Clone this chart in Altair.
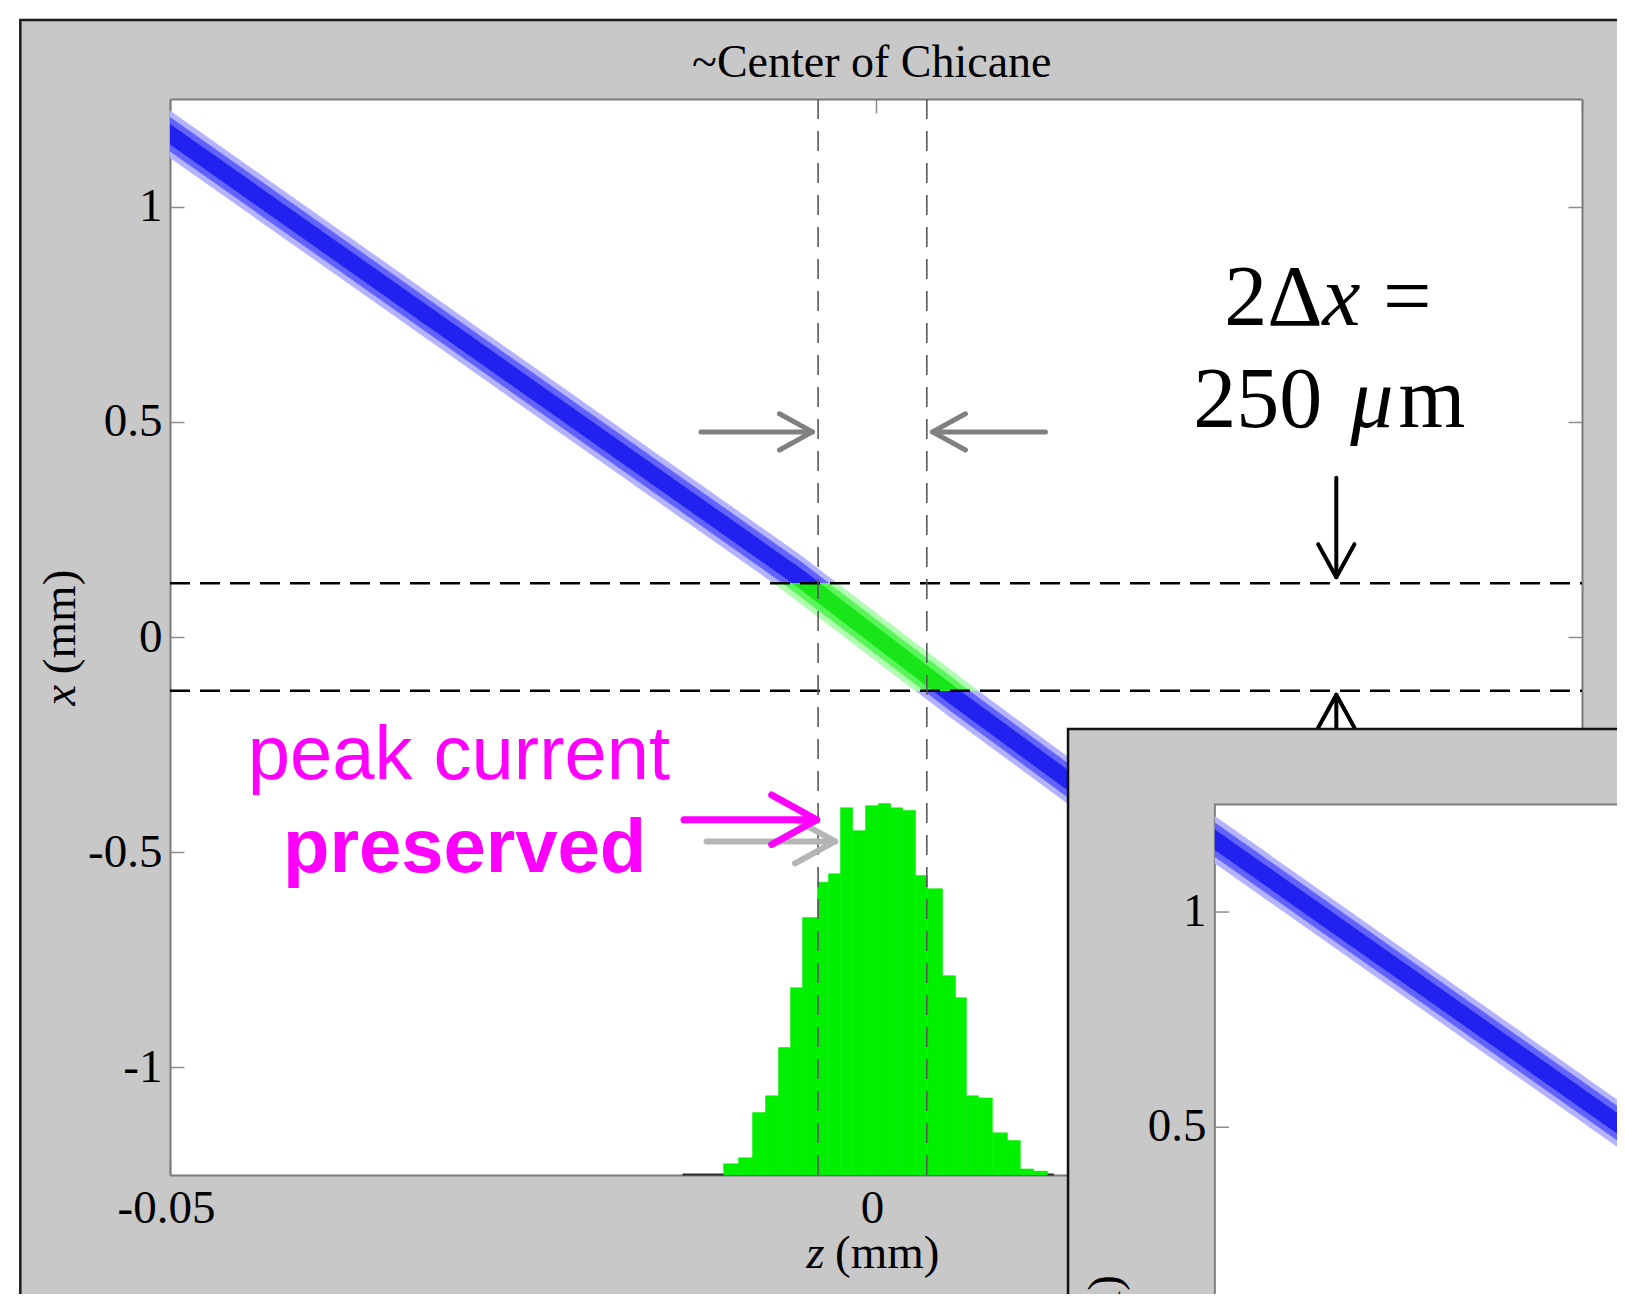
import numpy as np
import pandas as pd
import altair as alt

SERIF = "Liberation Serif"
SANS = "Liberation Sans"

# ---------------- values ----------------
# beam centre line in the (z, x) plane, mm
band_z = [-0.0500, -0.0051, 0.0000, 0.0051, 0.0145]
band_x = [1.168, 0.130, 0.000, -0.128, -0.355]
band_widths = [0.055, 0.040, 0.024]              # half thickness of the particle cloud layers
band_blues = ["#b3b3ff", "#6262ff", "#2222f0"]
band_greens = ["#b0ffb0", "#5af55a", "#18e618"]

# longitudinal histogram of the selected slice (bin edges in z, bar tops in plot units)
hist_edges = [-0.01079, -0.00973, -0.00874, -0.00782, -0.00690, -0.00605, -0.00520,
              -0.00414, -0.00336, -0.00251, -0.00166, -0.00074, 0.00018, 0.00103,
              0.00188, 0.00280, 0.00364, 0.00471, 0.00563, 0.00640, 0.00725,
              0.00824, 0.00931, 0.01022, 0.01115, 0.01214]
hist_top = [-1.224, -1.210, -1.105, -1.066, -0.954, -0.815, -0.652, -0.570, -0.550,
            -0.397, -0.450, -0.392, -0.387, -0.397, -0.403, -0.554, -0.585, -0.787,
            -0.838, -1.066, -1.071, -1.152, -1.170, -1.236, -1.241]

x_ticks = [-0.05, 0.0, 0.05]
y_ticks = [-1.0, -0.5, 0.0, 0.5, 1.0]
window_x = [0.125, -0.125]        # 2 dx = 250 um slit
window_z = [-0.0041, 0.0036]      # vertical guide lines
inset_ticks = [1.0, 0.5]
inset_labels = ["1", "0.5"]
INSET_DZ, INSET_DX = 0.0740, -1.639   # second (overlapping) panel offset

# ---------------- geometry ----------------
W, H = 1412, 1076
PAD = {"left": 162, "top": 91, "right": 35, "bottom": 119}
XS = alt.Scale(domain=[-0.05, 0.05], nice=False, zero=False)
YS = alt.Scale(domain=[-1.25, 1.25], nice=False, zero=False)
one = pd.DataFrame({"k": [0]})


def X(field, axis=None):
    return alt.X(field, type="quantitative", scale=XS, axis=axis)


def Y(field, axis=None):
    return alt.Y(field, type="quantitative", scale=YS, axis=axis)


def Xd(v):
    return alt.X(datum=v, type="quantitative", scale=XS, axis=None)


def Yd(v):
    return alt.Y(datum=v, type="quantitative", scale=YS, axis=None)


def rect(z1, z2, x1, x2, **kw):
    return alt.Chart(one).mark_rect(**kw).encode(
        x=Xd(z1), x2=alt.X2(datum=z2), y=Yd(x1), y2=alt.Y2(datum=x2))


def text(t, z, x, size, font=SERIF, color="black", align="center",
         baseline="alphabetic", angle=0, style="normal", weight="normal"):
    return alt.Chart(one).mark_text(
        text=t, font=font, fontSize=size, color=color, align=align,
        baseline=baseline, angle=angle, fontStyle=style, fontWeight=weight
    ).encode(x=Xd(z), y=Yd(x))


RIGHT = "M -1 -0.55 L 0 0 L -1 0.55"
LEFT = "M 1 -0.55 L 0 0 L 1 0.55"
DOWN = "M -0.55 -1 L 0 0 L 0.55 -1"
UP = "M -0.55 1 L 0 0 L 0.55 1"


def head(z, x, shape, color, width, arm):
    return alt.Chart(one).mark_point(
        shape=shape, size=(2 * arm) ** 2, filled=False, color=color,
        strokeWidth=width, opacity=1, strokeJoin="round", strokeCap="round"
    ).encode(x=Xd(z), y=Yd(x))


def harrow(z0, z1, x, color, width, arm, shape):
    shaft = alt.Chart(one).mark_rule(color=color, strokeWidth=width, strokeCap="round").encode(
        x=Xd(z0), x2=alt.X2(datum=z1), y=Yd(x))
    return [shaft, head(z1, x, shape, color, width, arm)]


def varrow(z, x0, x1, color, width, arm, shape):
    shaft = alt.Chart(one).mark_rule(color=color, strokeWidth=width, strokeCap="round").encode(
        x=Xd(z), y=Yd(x0), y2=alt.Y2(datum=x1))
    return [shaft, head(z, x1, shape, color, width, arm)]


layers = []

# slide frame around the figure
layers += [
    rect(-0.08, 0.12, 1.4336, 1.7, color="white"),
    rect(-0.08, -0.0606, -2.2, 1.7, color="white"),
    rect(-0.0606, 0.0137, -1.533, -1.9, color="#3a3a3a"),
    rect(-0.0606, 0.2, -1.533, 1.4336, fillOpacity=0, stroke="#1a1a1a", strokeWidth=2.5),
]

# beam (blue) and the selected |x| < 125 um slice (green)
band = pd.DataFrame({"z": band_z, "x": band_x})
for w, col in zip(band_widths, band_blues):
    layers.append(
        alt.Chart(band).transform_calculate(hi=f"datum.x + {w}", lo=f"datum.x - {w}")
        .mark_area(color=col, interpolate="linear")
        .encode(x=X("z"), y=Y("hi"), y2=alt.Y2("lo"))
    )

xp = np.array(band_x[::-1])
zp = np.array(band_z[::-1])


def z_at(level):
    return float(np.interp(level, xp, zp))


for w, col in zip(band_widths, band_greens):
    g = pd.DataFrame({
        "x": window_x,
        "zl": [z_at(v + w) for v in window_x],
        "zr": [z_at(v - w) for v in window_x],
    })
    layers.append(
        alt.Chart(g).mark_area(color=col, orient="horizontal", interpolate="linear")
        .encode(y=Y("x"), x=X("zl"), x2=alt.X2("zr"))
    )

# histogram
hist = pd.DataFrame({"zl": hist_edges[:-1], "zr": hist_edges[1:], "top": hist_top})
layers.append(
    alt.Chart(one).mark_rule(color="#2a2a2a", strokeWidth=2).encode(
        x=Xd(-0.0137), x2=alt.X2(datum=0.0126), y=Yd(-1.249))
)
layers.append(
    alt.Chart(hist).mark_rect(color="#00f000", stroke="#00f000", strokeWidth=0.6)
    .encode(x=X("zl"), x2=alt.X2("zr"), y=Y("top"), y2=alt.Y2(datum=-1.25))
)

# dashed guide lines
layers.append(
    alt.Chart(pd.DataFrame({"x": window_x}))
    .mark_rule(color="black", strokeWidth=2.5, strokeDash=[20, 10])
    .encode(y=Y("x"), x=Xd(-0.05), x2=alt.X2(datum=0.05))
)
layers.append(
    alt.Chart(pd.DataFrame({"z": window_z}))
    .mark_rule(color="#5a5a5a", strokeWidth=1.6, strokeDash=[20, 12])
    .encode(x=X("z"), y=Yd(-1.25), y2=alt.Y2(datum=1.25))
)

# arrows
layers += harrow(-0.0124, -0.0045, 0.4765, "#808080", 5, 33, RIGHT)
layers += harrow(0.0120, 0.0040, 0.4765, "#808080", 5, 33, LEFT)
layers += varrow(0.0326, 0.370, 0.139, "black", 4, 33, DOWN)
layers += varrow(0.0326, -0.50, -0.134, "black", 4, 33, UP)
layers += harrow(-0.0120, -0.0029, -0.475, "#b5b5b5", 6, 40, RIGHT)
layers += harrow(-0.0136, -0.0042, -0.4245, "#ff00ff", 7, 45, RIGHT)

# annotations
layers += [
    text("peak current", -0.0445, -0.329, 76, font=SANS, color="#ff00ff", align="left"),
    text("preserved", -0.0420, -0.547, 76, font=SANS, color="#ff00ff", align="left", weight="bold"),
    text("2\u0394", 0.02466, 0.7245, 86, align="left"),
    text("x", 0.03160, 0.7245, 86, align="left", style="italic"),
    text("=", 0.03590, 0.7245, 86, align="left"),
    text("250", 0.02247, 0.489, 86, align="left"),
    text("\u03bc", 0.03359, 0.489, 86, align="left", style="italic"),
    text("m", 0.03700, 0.489, 86, align="left"),
    text("~Center of Chicane", -0.0003, 1.302, 46),
    text("z", -0.0043, -1.467, 47, style="italic"),
    text("(mm)", 0.0008, -1.467, 47),
    text("(mm)", -0.0577, 0.035, 47, angle=270, baseline="middle"),
    text("x", -0.0577, -0.1355, 47, angle=270, baseline="middle", style="italic"),
]

# axes (MATLAB box with inward ticks)
axdf = pd.DataFrame({"z": [0.0], "x": [0.0]})
lab = dict(labelFont=SERIF, labelFontSize=47, labelColor="black", ticks=False,
           domain=False, grid=False, title=None, labelOverlap=False,
           labelBound=False, labelFlush=False, zindex=0)
tk = dict(labels=False, ticks=True, tickSize=14, tickWidth=1.5, tickColor="#8c8c8c",
          domain=True, domainColor="#7a7a7a", domainWidth=2, grid=False,
          title=None, zindex=0)
layers.append(
    alt.Chart(axdf).mark_point(opacity=0).encode(
        x=X("z", alt.Axis(orient="bottom", values=x_ticks, labelPadding=10, labelOffset=-4,
                          labelExpr="datum.value == 0 ? '0' : (datum.value < 0 ? '-' : '') + format(abs(datum.value), '.2f')",
                          **lab)),
        y=Y("x", alt.Axis(orient="left", values=y_ticks, labelPadding=8,
                          labelExpr="(datum.value < 0 ? '-' : '') + abs(datum.value)",
                          **lab)),
    )
)
layers.append(
    alt.Chart(axdf).mark_point(opacity=0).encode(
        x=X("z", alt.Axis(orient="top", offset=-H, values=x_ticks, **tk)),
        y=Y("x", alt.Axis(orient="right", offset=-W, values=y_ticks, **tk)),
    )
)
layers.append(
    alt.Chart(axdf).mark_point(opacity=0).encode(
        x=X("z", alt.Axis(orient="bottom", offset=-H, values=x_ticks, **tk)),
        y=Y("x", alt.Axis(orient="left", offset=-W, values=y_ticks, **tk)),
    )
)

# overlapping second figure (lower right)
layers += [
    rect(0.0136, 0.15, -0.2136, -2.4, color="#c8c8c8", stroke="#111111", strokeWidth=2.5),
    rect(0.0240, 0.15, -0.389, -2.4, color="white", stroke="#7f7f7f", strokeWidth=2),
]
for w, col in zip(band_widths, band_blues):
    layers.append(
        alt.Chart(band).transform_calculate(
            zi=f"datum.z + {INSET_DZ}",
            hi=f"datum.x + {w} + ({INSET_DX})",
            lo=f"datum.x - {w} + ({INSET_DX})")
        .mark_area(color=col, interpolate="linear")
        .encode(x=X("zi"), y=Y("hi"), y2=alt.Y2("lo"))
    )
inset = pd.DataFrame({"v": inset_ticks, "lab": inset_labels})
layers.append(
    alt.Chart(inset).transform_calculate(y=f"datum.v + ({INSET_DX})")
    .mark_rule(color="#8c8c8c", strokeWidth=1.5)
    .encode(x=Xd(-0.05 + INSET_DZ), x2=alt.X2(datum=-0.049 + INSET_DZ), y=Y("y"))
)
layers.append(
    alt.Chart(inset).transform_calculate(y=f"datum.v + ({INSET_DX})")
    .mark_text(font=SERIF, fontSize=47, color="black", align="right", baseline="middle")
    .encode(x=Xd(-0.0506 + INSET_DZ), y=Y("y"), text="lab:N")
)
layers += [
    text("(mm)", -0.0577 + INSET_DZ, 0.035 + INSET_DX, 47, angle=270, baseline="middle"),
    text("x", -0.0577 + INSET_DZ, -0.1355 + INSET_DX, 47, angle=270, baseline="middle", style="italic"),
]

chart = (
    alt.layer(*layers)
    .resolve_axis(x="independent", y="independent")
    .properties(width=W, height=H, padding=PAD,
                autosize=alt.AutoSizeParams(type="none"),
                background="#c8c8c8")
    .configure_view(fill="white", stroke="transparent")
)

chart.save("out.html", embed_options={"renderer": "svg", "actions": False})
